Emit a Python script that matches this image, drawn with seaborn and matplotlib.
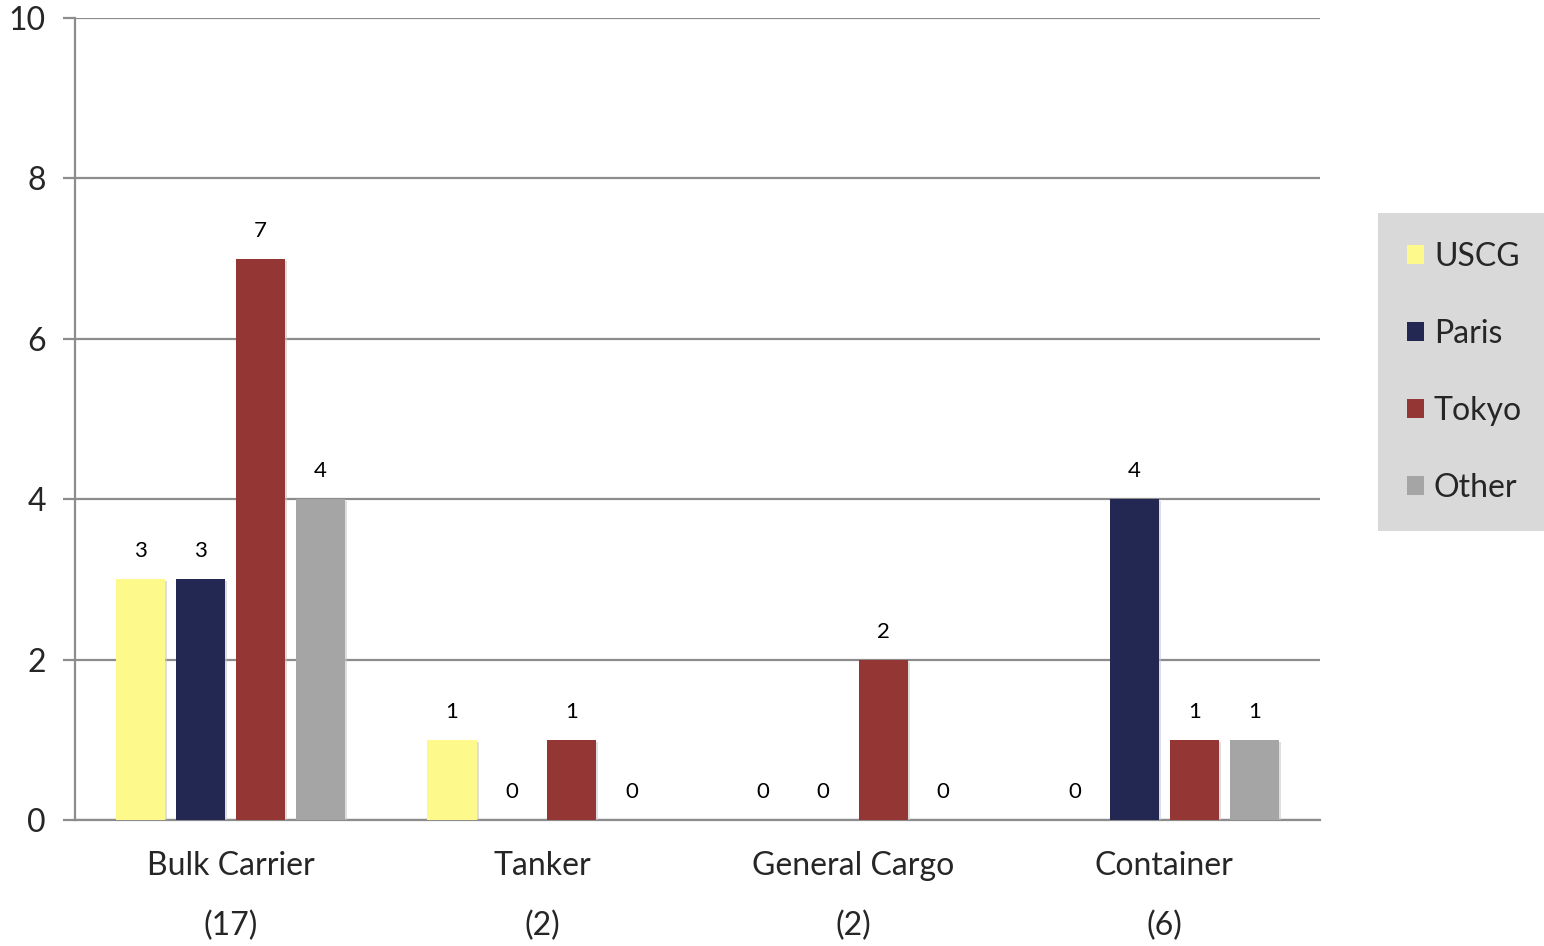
import matplotlib
matplotlib.use("Agg")
import matplotlib.pyplot as plt
import matplotlib.patheffects as pe
import seaborn as sns
import pandas as pd

# data
categories = ["Bulk Carrier", "Tanker", "General Cargo", "Container"]
totals = [17, 2, 2, 6]
uscg = [3, 1, 0, 0]
paris = [3, 0, 0, 4]
tokyo = [7, 1, 2, 1]
other = [4, 0, 0, 1]
series_names = ["USCG", "Paris", "Tokyo", "Other"]
colors = ["#FDF98A", "#232852", "#943634", "#A5A5A5"]

rows = []
for name, vals in zip(series_names, [uscg, paris, tokyo, other]):
    for cat, v in zip(categories, vals):
        rows.append({"category": cat, "source": name, "count": v})
df = pd.DataFrame(rows)

sns.set_style("white")
plt.rcParams['font.family'] = ['Lato', 'DejaVu Sans']

fig, ax = plt.subplots(figsize=(15.44, 9.46), dpi=100)
fig.subplots_adjust(left=75/1544, right=1320/1544, top=1-18/946, bottom=1-820/946)

sns.barplot(data=df, x="category", y="count", hue="source", order=categories,
            hue_order=series_names, palette=colors, width=0.77, gap=0.18,
            saturation=1, linewidth=0, ax=ax, zorder=3)

# soft shadow around bars and value labels
for cont in ax.containers:
    for bar in cont:
        bar.set_path_effects([pe.SimplePatchShadow(offset=(1.5, -1.5), shadow_rgbFace='#c8c8c8', alpha=0.6),
                              pe.Normal()])
    ax.bar_label(cont, labels=[f"{int(b.get_height())}" for b in cont],
                 padding=13, fontsize=16, color='black')

ax.set_ylim(0, 10)
ax.set_yticks([0, 2, 4, 6, 8, 10])
ax.set_xlim(-0.5, 3.5)
ax.yaxis.grid(True, color='#8c8c8c', linewidth=1.6, zorder=0)
ax.set_axisbelow(True)

# category labels with totals underneath, ticks at category boundaries
ax.set_xticks(range(len(categories)))
ax.set_xticklabels([f"{c}\n({t})" for c, t in zip(categories, totals)],
                   fontsize=23, linespacing=2.25)
ax.tick_params(axis='x', which='major', length=0, pad=22)
ax.set_xticks([-0.5, 0.5, 1.5, 2.5, 3.5], minor=True)
ax.tick_params(axis='x', which='minor', length=9, width=1.6, color='#8c8c8c', direction='out')
ax.tick_params(axis='y', length=9, width=1.6, color='#8c8c8c', labelsize=23, pad=12, left=True)

for s in ['top', 'right']:
    ax.spines[s].set_visible(False)
for s in ['left', 'bottom']:
    ax.spines[s].set_color('#8c8c8c')
    ax.spines[s].set_linewidth(1.6)

ax.set_xlabel("")
ax.set_ylabel("")

leg = ax.legend(loc='upper left', bbox_to_anchor=((1378-75)/1245, (820-213)/802),
                borderaxespad=0, fontsize=23, frameon=True, fancybox=False,
                handlelength=0.55, handleheight=0.55, handletextpad=0.3,
                labelspacing=1.47, borderpad=0.9)
leg.get_frame().set_facecolor('#D9D9D9')
leg.get_frame().set_edgecolor('none')
leg.get_frame().set_alpha(1)

fig.savefig("out.png", dpi=100)
